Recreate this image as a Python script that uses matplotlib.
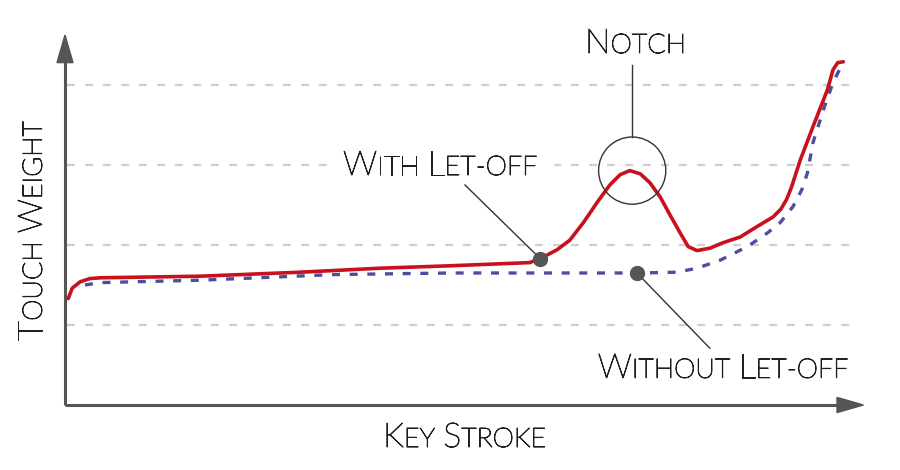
import matplotlib
matplotlib.use("Agg")
import matplotlib.pyplot as plt
import matplotlib.transforms as mtransforms
import matplotlib.patheffects as pe
from matplotlib.patches import Polygon, Circle, Rectangle

# Touch weight curves (key stroke on x, weight on y, grid units)
with_x = [0.04, 0.09, 0.19, 0.31, 0.44, 1.06, 1.69, 2.94, 3.94, 4.81, 5.81, 5.98,
          6.15, 6.31, 6.48, 6.65, 6.81, 6.94, 7.06, 7.19, 7.31, 7.44, 7.56, 7.69,
          7.79, 7.90, 8.06, 8.23, 8.44, 8.65, 8.85, 8.95, 9.02, 9.08, 9.19, 9.35,
          9.53, 9.60, 9.66, 9.73]
with_y = [1.33, 1.46, 1.54, 1.58, 1.59, 1.60, 1.61, 1.66, 1.71, 1.74, 1.78, 1.85,
          1.94, 2.06, 2.28, 2.53, 2.75, 2.88, 2.93, 2.89, 2.78, 2.60, 2.38, 2.15,
          1.98, 1.93, 1.96, 2.03, 2.10, 2.23, 2.35, 2.45, 2.57, 2.72, 3.06, 3.48,
          3.94, 4.19, 4.28, 4.29]

without_x = [0.25, 0.44, 1.69, 3.35, 4.81, 6.06, 7.15, 7.65, 7.90, 8.19, 8.53,
             8.78, 8.94, 9.10, 9.21, 9.28, 9.35, 9.48, 9.60, 9.68, 9.70]
without_y = [1.50, 1.53, 1.56, 1.63, 1.65, 1.65, 1.65, 1.66, 1.71, 1.81, 1.98,
             2.15, 2.28, 2.48, 2.69, 2.90, 3.28, 3.69, 4.03, 4.19, 4.23]

grid_levels = [1, 2, 3, 4]

letoff_pt = (5.94, 1.83)
noletoff_pt = (7.15, 1.65)
notch_pt = (7.09, 2.93)

RED = "#c8101e"
BLUE = "#4a4fa0"
AXIS = "#555555"
INK = "#1e1e1e"
FONT = "Lato"

fig = plt.figure(figsize=(9, 4.7), dpi=100)
ax = fig.add_axes([0, 0, 1, 1])
ax.set_xlim(-0.8125, 10.4375)
ax.set_ylim(-0.8125, 5.0625)
ax.axis("off")

# dashed grid
for g in grid_levels:
    ax.plot([0.03, 9.8], [g, g], color="#d0d0d0", lw=1.6, dashes=(3.6, 4.5), zorder=1)

# white strip behind the "With Let-off" label
ax.add_patch(Rectangle((3.29, 2.88), 2.81, 0.24, color="white", zorder=1.5))

# axes with arrow heads
ax.plot([0, 0], [0, 4.3], color=AXIS, lw=2.2, solid_capstyle="butt", zorder=2)
ax.plot([0, 9.7], [0, 0], color=AXIS, lw=2.2, solid_capstyle="butt", zorder=2)
ax.add_patch(Polygon([(-0.1, 4.28), (0.1, 4.28), (0, 4.625)], closed=True,
                     color=AXIS, zorder=2))
ax.add_patch(Polygon([(9.65, -0.095), (9.65, 0.095), (9.98, 0)], closed=True,
                     color=AXIS, zorder=2))

# curves
ax.plot(without_x, without_y, color=BLUE, lw=2.4, dashes=(2.4, 2.9), zorder=3)
ax.plot(with_x, with_y, color=RED, lw=2.6, solid_capstyle="round",
        solid_joinstyle="round", zorder=4)

# callouts
ax.plot([5.0, letoff_pt[0]], [2.75, letoff_pt[1]], color="#333333", lw=1.0, zorder=5)
ax.plot([noletoff_pt[0], 8.06], [noletoff_pt[1], 0.71], color="#333333", lw=1.0, zorder=5)
ax.plot([notch_pt[0], notch_pt[0]], [3.35, 4.25], color="#333333", lw=1.0, zorder=5)
ax.add_patch(Circle(notch_pt, 0.42, fill=False, ec="#333333", lw=1.0, zorder=5))
ax.plot(*letoff_pt, "o", color=AXIS, ms=10, zorder=6)
ax.plot(*noletoff_pt, "o", color=AXIS, ms=10, zorder=6)

thicken = [pe.withStroke(linewidth=0.7, foreground=INK)]


def small_caps(x, y, s, big=24.5, small=19.5, rotation=0):
    """Draws text as small caps by chaining pieces along the baseline"""
    renderer = fig.canvas.get_renderer()
    offset = 0.0
    words = s.split(" ")
    for i, word in enumerate(words):
        pieces = []
        if word[0].isupper():
            pieces.append((word[0], big))
            rest = word[1:]
        else:
            rest = word
        if rest:
            pieces.append((rest.upper(), small))
        for chunk, size in pieces:
            if rotation == 90:
                tr = mtransforms.offset_copy(ax.transData, fig=fig, x=0, y=offset, units="dots")
            else:
                tr = mtransforms.offset_copy(ax.transData, fig=fig, x=offset, y=0, units="dots")
            t = ax.text(x, y, chunk, fontsize=size, family=FONT, weight="light",
                        color=INK, ha="left", va="baseline", rotation=rotation,
                        rotation_mode="anchor", transform=tr, zorder=7,
                        path_effects=thicken)
            bb = t.get_window_extent(renderer)
            offset += bb.height if rotation == 90 else bb.width
        if i < len(words) - 1:
            offset += small * 0.3 * fig.dpi / 72


small_caps(3.475, 2.875, "With Let-off")
small_caps(6.5, 4.4, "Notch")
small_caps(6.66, 0.34, "Without Let-off")
small_caps(3.975, -0.525, "Key Stroke")
small_caps(-0.29, 0.81, "Touch Weight", rotation=90)

fig.savefig("out.png", dpi=100)
